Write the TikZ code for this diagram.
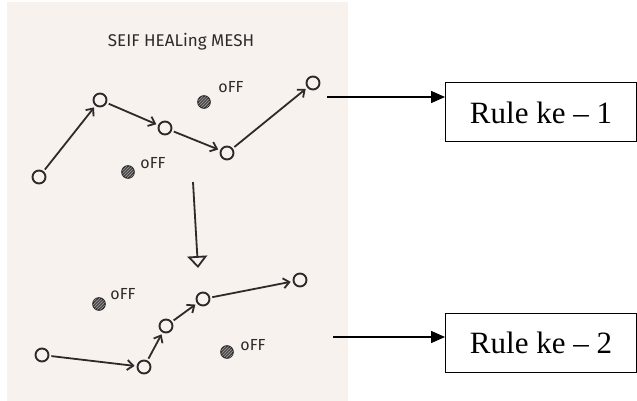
\documentclass[tikz,border=0pt]{standalone}
\usepackage{fontspec}
\setmainfont{Liberation Serif}
\newfontfamily\sketchfont{Fira Sans}
\usetikzlibrary{arrows.meta,patterns}
\definecolor{paper}{HTML}{F7F2EE}
\definecolor{ink}{HTML}{2E2A2A}
\tikzset{
  peer/.style={draw=ink, line width=1.9pt, circle, minimum width=13pt, minimum height=13pt, inner sep=0pt},
  offdot/.style={draw=ink, line width=1.6pt, circle, minimum size=12pt, inner sep=0pt, fill=ink!85, postaction={pattern=north east lines, pattern color=ink!45}},
  offlabel/.style={font=\sketchfont\fontsize{16}{16}\selectfont, text=ink, inner sep=0pt},
  hop/.style={draw=ink, line width=1.8pt, -{Straight Barb[length=6pt,width=10pt,line width=1.8pt]}, shorten >=2pt, shorten <=2pt},
  rulebox/.style={draw=black, line width=1pt, minimum width=191pt, minimum height=59pt, inner sep=0pt, font=\fontsize{31}{31}\selectfont, anchor=west},
  rulearrow/.style={draw=black, line width=1.5pt, -{Triangle[length=14pt,width=12pt]}},
}
\begin{document}
\begin{tikzpicture}[x=1pt,y=-1pt]
\useasboundingbox (0,0) rectangle (637,401);
\fill[paper] (7,2) rectangle (348,401);
% title
\node[font=\sketchfont\fontsize{17}{17}\selectfont, text=ink] (title) at (181,42) {SEIF HEALing MESH};
% upper mesh
\node[peer] (a) at (39,177) {};
\node[peer] (b) at (100,100) {};
\node[peer] (c) at (165,128) {};
\node[peer] (d) at (227,153) {};
\node[peer] (e) at (313,83) {};
\node[offdot] (o1) at (204,102) {};
\node[offlabel] (l1) at (231,87) {oFF};
\node[offdot] (o2) at (128,172) {};
\node[offlabel] (l2) at (153,163) {oFF};
\draw[hop] (a) -- (b);
\draw[hop] (b) -- (c);
\draw[hop] (c) -- (d);
\draw[hop] (d) -- (e);
% down arrow
\coordinate (dtop) at (193,182);
\coordinate (dbot) at (198,268);
\draw[draw=ink, line width=1.8pt, -{Triangle[open,length=12pt,width=20pt,line width=1.8pt]}] (dtop) -- (dbot);
% lower mesh
\node[peer] (f) at (42,355) {};
\node[peer] (g) at (144,367) {};
\node[peer] (h) at (166,326) {};
\node[peer] (i) at (203,299) {};
\node[peer] (j) at (300,280) {};
\node[offdot] (o3) at (99,304) {};
\node[offlabel] (l3) at (123,294) {oFF};
\node[offdot] (o4) at (227,352) {};
\node[offlabel] (l4) at (253,345) {oFF};
\draw[hop] (f) -- (g);
\draw[hop] (g) -- (h);
\draw[hop] (h) -- (i);
\draw[hop] (i) -- (j);
% rules
\node[rulebox] (r1) at (445,112.5) {Rule ke -- 1};
\node[rulebox] (r2) at (445,342.5) {Rule ke -- 2};
\coordinate (s1) at (327,97);
\coordinate (s2) at (333,337);
\draw[rulearrow] (s1) -- (s1 -| r1.west);
\draw[rulearrow] (s2) -- (s2 -| r2.west);
\end{tikzpicture}
\end{document}
